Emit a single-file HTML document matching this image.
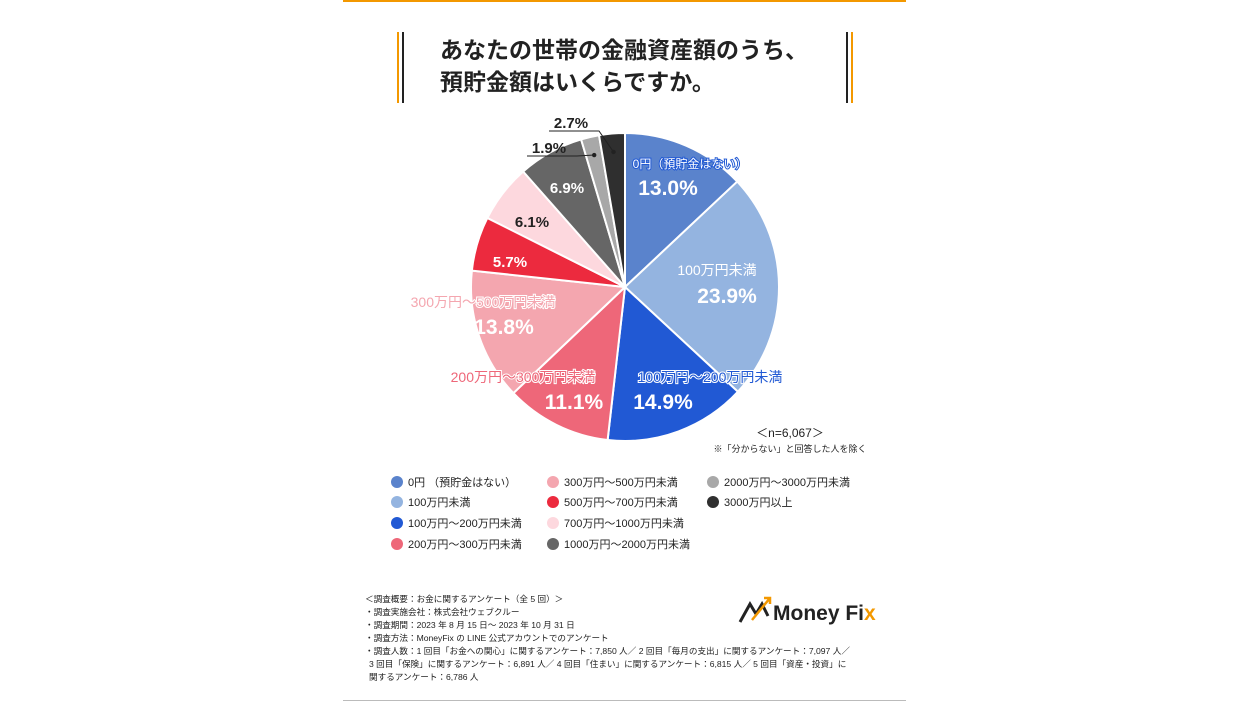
<!DOCTYPE html>
<html><head><meta charset="utf-8"><style>
body{margin:0;background:#fff;}
svg{display:block;font-family:"Liberation Sans","Noto Sans CJK JP",sans-serif;}
</style></head><body>
<svg id="chart" width="1248" height="702" viewBox="0 0 1248 702">
<rect x="343" y="0" width="563" height="2" fill="#f39800"/>
<rect x="343" y="700" width="563" height="1" fill="#bbb"/>
<g>
<rect x="397" y="32" width="2" height="71" fill="#f39800"/><rect x="402" y="32" width="2" height="71" fill="#222"/>
<rect x="846" y="32" width="2" height="71" fill="#222"/><rect x="851" y="32" width="2" height="71" fill="#f39800"/>
</g>
<text x="440" y="58" font-size="23" font-weight="bold" fill="#222">あなたの世帯の金融資産額のうち、</text>
<text x="440" y="90" font-size="23" font-weight="bold" fill="#222">預貯金額はいくらですか。</text>
<g id="slices"></g>
<g id="labels"></g>
<text x="790" y="437" font-size="12" text-anchor="middle" fill="#222">＜n=6,067＞</text>
<text x="790" y="452" font-size="9" text-anchor="middle" fill="#222">※「分からない」と回答した人を除く</text>
<g id="legend"></g>
<g font-size="8.6" fill="#222">
<text x="365" y="602">＜調査概要：お金に関するアンケート（全 5 回）＞</text>
<text x="365" y="615">・調査実施会社：株式会社ウェブクルー</text>
<text x="365" y="628">・調査期間：2023 年 8 月 15 日～ 2023 年 10 月 31 日</text>
<text x="365" y="641">・調査方法：MoneyFix の LINE 公式アカウントでのアンケート</text>
<text x="365" y="654">・調査人数：1 回目「お金への関心」に関するアンケート：7,850 人／ 2 回目「毎月の支出」に関するアンケート：7,097 人／</text>
<text x="369" y="667">3 回目「保険」に関するアンケート：6,891 人／ 4 回目「住まい」に関するアンケート：6,815 人／ 5 回目「資産・投資」に</text>
<text x="369" y="680">関するアンケート：6,786 人</text>
</g>
<g>
<path d="M740 622 L750 604 L756 614 L762 604 L768 616" stroke="#222" stroke-width="3" fill="none"/>
<path d="M752 620 L770 598 M764 598 L770 598 L770 604" stroke="#f39800" stroke-width="2.5" fill="none"/>
<text x="773" y="620" font-size="21" font-weight="bold" fill="#222">Money Fi<tspan fill="#f39800">x</tspan></text>
</g>
</svg>
<script>
const categories=["0円（預貯金はない）","100万円未満","100万円～200万円未満","200万円～300万円未満","300万円～500万円未満","500万円～700万円未満","700万円～1000万円未満","1000万円～2000万円未満","2000万円～3000万円未満","3000万円以上"];
const values=[13.0,23.9,14.9,11.1,13.8,5.7,6.1,6.9,1.9,2.7];
const sliceLabels=["0円（預貯金はない）","100万円未満","100万円～200万円未満","200万円～300万円未満","300万円～500万円未満","","","","",""];
const colors=["#5a83cc","#94b4e0","#2159d4","#ee6779","#f4a6af","#ec2a3e","#fdd8de","#666666","#a8a8a8","#2f2f2f"];
const pctColors=["#fff","#fff","#fff","#fff","#fff","#fff","#222","#fff","#222","#222"];
const NS="http://www.w3.org/2000/svg";
const cx=625,cy=287,R=154;
// label layout (positions, not data)
const catPos=[[690,163],[717,270],[710,377],[523,377],[483,302]];
const pctPos=[[668,188],[727,296],[663,402],[574,402],[504,327],[510,262],[532,222],[567,188],[549,148],[571,123]];
const catFill=["#fff","#fff","#2159d4","#ee6779","#f4a6af"];
const catStroke=["#2159d4","none","#fff","#fff","#fff"];
const total=values.reduce((a,b)=>a+b,0);
function ang(v){return v/total*Math.PI*2;}
function pt(a,r){return [cx+r*Math.sin(a),cy-r*Math.cos(a)];}
const gS=document.getElementById('slices'),gL=document.getElementById('labels'),gLeg=document.getElementById('legend');
let a0=0;
values.forEach((v,i)=>{
  const a1=a0+ang(v);
  const p0=pt(a0,R),p1=pt(a1,R);
  const path=document.createElementNS(NS,'path');
  path.setAttribute('d',`M${cx} ${cy} L${p0[0]} ${p0[1]} A${R} ${R} 0 ${a1-a0>Math.PI?1:0} 1 ${p1[0]} ${p1[1]} Z`);
  path.setAttribute('fill',colors[i]);path.setAttribute('stroke','#fff');path.setAttribute('stroke-width','2');
  
  
  gS.appendChild(path);
  const m=(a0+a1)/2;
  const lp=pctPos[i];
  if(v<3){
    const e=pt(m,R*0.88);
    const ln=document.createElementNS(NS,'polyline');
    ln.setAttribute('points',`${lp[0]-22},${lp[1]+8} ${lp[0]+28},${lp[1]+8} ${e[0]},${e[1]}`);
    ln.setAttribute('stroke','#222');ln.setAttribute('fill','none');
    
    
    gL.appendChild(ln);
    const d=document.createElementNS(NS,'circle');
    d.setAttribute('cx',e[0]);d.setAttribute('cy',e[1]);d.setAttribute('r','2.2');d.setAttribute('fill','#222');
    
    
    gL.appendChild(d);
  }
  if(sliceLabels[i]){
    const t=document.createElementNS(NS,'text');
    t.setAttribute('x',catPos[i][0]);t.setAttribute('y',catPos[i][1]+5);
    t.setAttribute('text-anchor','middle');t.setAttribute('font-size',i===0?'12':'14');
    t.setAttribute('fill',catFill[i]);
    t.setAttribute('stroke',catStroke[i]);t.setAttribute('stroke-width','2');t.setAttribute('paint-order','stroke');
    t.textContent=sliceLabels[i];
    
    
    gL.appendChild(t);
  }
  const p=document.createElementNS(NS,'text');
  p.setAttribute('x',lp[0]);p.setAttribute('y',lp[1]+(v>10?7:5));
  p.setAttribute('text-anchor','middle');p.setAttribute('font-weight','bold');
  p.setAttribute('font-size',v>10?'21':'15');
  p.setAttribute('fill',pctColors[i]);
  p.textContent=v.toFixed(1)+'%';
  
  
  gL.appendChild(p);
  a0=a1;
});
const legX=[397,553,713],legY=[482,502,523,544];
const cols=[[0,1,2,3],[4,5,6,7],[8,9]];
cols.forEach((c,ci)=>c.forEach((idx,ri)=>{
  const g=document.createElementNS(NS,'g');
  
  
  const ci2=document.createElementNS(NS,'circle');
  ci2.setAttribute('cx',legX[ci]);ci2.setAttribute('cy',legY[ri]);ci2.setAttribute('r','6');ci2.setAttribute('fill',colors[idx]);
  g.appendChild(ci2);
  const t=document.createElementNS(NS,'text');
  t.setAttribute('x',legX[ci]+11);t.setAttribute('y',legY[ri]+4);t.setAttribute('font-size','11');t.setAttribute('fill','#222');
  t.textContent=categories[idx].replace('（',' （');
  g.appendChild(t);
  gLeg.appendChild(g);
}));
</script>
</body></html>
